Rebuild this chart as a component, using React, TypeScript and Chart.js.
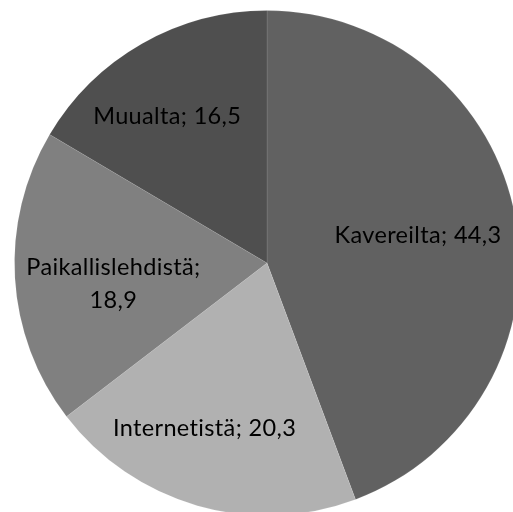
import React, { useEffect, useRef } from "react";
import { Chart, registerables } from "chart.js";

Chart.register(...registerables);

const categories = ["Kavereilta", "Internetistä", "Paikallislehdistä", "Muualta"];
const values = [44.3, 20.3, 18.9, 16.5];
const valueLabels = ["44,3", "20,3", "18,9", "16,5"];
const sliceColors = ["#616161", "#b1b1b1", "#808080", "#4f4f4f"];
// label placement: radial fraction of the outer radius and angle nudge (degrees)
const labelRadius = [0.608, 0.699, 0.614, 0.703];
const labelAngleNudge = [0, 4.7, -4.4, -4.5];
const labelLines: string[][] = [
  ["Kavereilta; 44,3"],
  ["Internetistä; 20,3"],
  ["Paikallislehdistä;", "18,9"],
  ["Muualta; 16,5"],
];

const labelPlugin = {
  id: "sliceLabels",
  afterDatasetsDraw(chart: any) {
    const ctx = chart.ctx;
    const meta = chart.getDatasetMeta(0);
    ctx.save();
    ctx.font = "23.5px Lato";
    try {
      (ctx as any).letterSpacing = "0.35px";
    } catch (e) {}
    ctx.fillStyle = "#000000";
    ctx.textAlign = "center";
    ctx.textBaseline = "middle";
    const lineH = 33;
    meta.data.forEach((arc: any, i: number) => {
      const p = arc.getProps(["x", "y", "startAngle", "endAngle", "outerRadius"], true);
      const mid = (p.startAngle + p.endAngle) / 2 + (labelAngleNudge[i] * Math.PI) / 180;
      const r = p.outerRadius * labelRadius[i];
      const cx = p.x + r * Math.cos(mid);
      const cy = p.y + r * Math.sin(mid);
      const lines = labelLines[i];
      const top = cy - ((lines.length - 1) * lineH) / 2;
      lines.forEach((t, k) => ctx.fillText(t, cx, top + k * lineH));
    });
    ctx.restore();
  },
};

export default function App() {
  const ref = useRef<HTMLCanvasElement | null>(null);
  useEffect(() => {
    if (!ref.current) return;
    const chart = new Chart(ref.current, {
      type: "pie",
      data: {
        labels: categories.map((c, i) => `${c}; ${valueLabels[i]}`),
        datasets: [
          {
            data: values,
            backgroundColor: sliceColors,
            borderColor: "rgba(255,255,255,0.1)",
            borderWidth: 1,
          },
        ],
      },
      options: {
        responsive: false,
        animation: false,
        layout: { padding: 10 },
        plugins: { legend: { display: false }, tooltip: { enabled: false } },
      },
      plugins: [labelPlugin],
    });
    return () => chart.destroy();
  }, []);
  return (
    <div
      style={{
        position: "fixed",
        left: 0,
        top: 0,
        width: 513,
        height: 512,
        overflow: "hidden",
        background: "#ffffff",
      }}
    >
      <canvas ref={ref} width={534} height={526} style={{ display: "block" }} />
    </div>
  );
}
